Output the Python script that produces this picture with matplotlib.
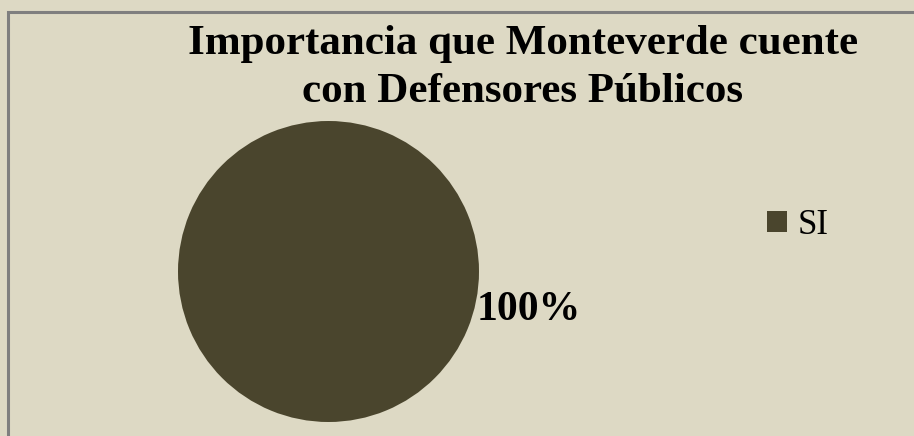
import matplotlib
matplotlib.use("Agg")
import matplotlib.pyplot as plt
from matplotlib.patches import Rectangle, Patch

# data
categories = ["SI"]
values = [100]
title_text = "Importancia que Monteverde cuente\ncon Defensores Públicos"

bg = "#DDD9C4"
slice_color = "#4A452D"

plt.rcParams['font.family'] = ['Liberation Serif', 'DejaVu Serif']

fig = plt.figure(figsize=(9.14, 4.36), dpi=100)
fig.patch.set_facecolor(bg)

# outer gray frame (runs off the right and bottom edges)
fig.patches.append(Rectangle((8 / 914, -0.1), 1.0, (436 - 12) / 436 + 0.1,
                             transform=fig.transFigure, fill=False,
                             edgecolor="#7F7F7F", linewidth=2.2, zorder=0))

fig.text(523 / 914, (436 - 25) / 436, title_text, ha='center', va='top',
         fontsize=31, fontweight='bold', linespacing=1.36)

ax = fig.add_axes([178 / 914, 14 / 436, 301 / 914, 301 / 436])
total = sum(values)
labels = ["%d%%" % round(v / total * 100) for v in values]
# startangle kept exactly representable so the single 360 deg wedge stays whole
wedges, texts = ax.pie(values, labels=labels, colors=[slice_color],
                       startangle=165.5, labeldistance=1.02, radius=1,
                       textprops=dict(fontsize=30, fontweight='bold'))
for t in texts:
    t.set_ha('left')
ax.set_xlim(-1, 1)
ax.set_ylim(-1, 1)
ax.set_aspect('equal')
ax.axis('off')

handles = [Patch(facecolor=slice_color, edgecolor='none') for _ in categories]
fig.legend(handles, categories, loc='center left',
           bbox_to_anchor=(767 / 914, (436 - 225) / 436), frameon=False,
           fontsize=25, handlelength=0.57, handleheight=0.57, handletextpad=0.3,
           borderpad=0, borderaxespad=0)

fig.savefig("out.png", dpi=100, facecolor=bg)
